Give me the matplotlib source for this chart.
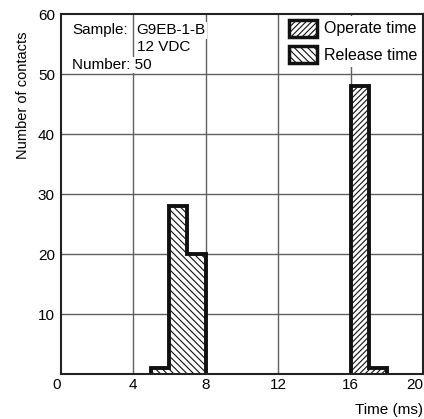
import matplotlib.pyplot as plt
from matplotlib.patches import Patch

plt.rcParams['font.family'] = ['Liberation Sans', 'DejaVu Sans']
plt.rcParams['hatch.linewidth'] = 0.8

# histogram bins (ms) and counts
release_edges = [5, 6, 7, 8]
release_counts = [1, 28, 20]
operate_edges = [16, 17, 18]
operate_counts = [48, 1]

x_ticks = [0, 4, 8, 12, 16, 20]
y_ticks = [0, 10, 20, 30, 40, 50, 60]


def main():
    fig = plt.figure(figsize=(4.24, 4.19), dpi=100)
    ax = fig.add_axes([0.1427, 0.1074, 0.855, 0.859])

    ax.set_xlim(0, 20)
    ax.set_ylim(0, 60)

    # grid
    for x in x_ticks[1:-1]:
        ax.axvline(x, color='#606060', lw=1.0, zorder=1)
    for y in y_ticks[1:-1]:
        ax.axhline(y, color='#606060', lw=1.0, zorder=1)

    ax.stairs(release_counts, release_edges, baseline=0, fill=True,
              facecolor='white', edgecolor='#111111', hatch='\\\\\\\\\\',
              lw=2.8, zorder=3)
    ax.stairs(operate_counts, operate_edges, baseline=0, fill=True,
              facecolor='white', edgecolor='#111111', hatch='//////',
              lw=2.8, zorder=3)

    ax.set_xticks(x_ticks)
    ax.set_yticks(y_ticks)
    ax.tick_params(length=0, labelsize=11)
    ax.tick_params(axis='x', pad=3)
    ax.tick_params(axis='y', pad=4)
    ax.set_xticklabels([str(t) for t in x_ticks])
    # the origin "0" is shared, shown only once below the corner
    ax.set_yticklabels([''] + [str(t) for t in y_ticks[1:]])
    labs = ax.get_xticklabels()
    labs[0].set_ha('right')
    labs[-1].set_ha('right')
    for s in ax.spines.values():
        s.set_linewidth(1.5)
        s.set_color('#222222')
        s.set_zorder(4)

    ax.set_ylabel('Number of contacts', fontsize=10.5)
    ax.yaxis.set_label_coords(-0.085, 0.775)
    fig.text(0.997, 0.0215, 'Time (ms)', ha='right', va='center', fontsize=11)

    bb = dict(facecolor='white', edgecolor='none', pad=1)
    ax.text(0.63, 57.3, 'Sample:', fontsize=11, va='center', bbox=bb, zorder=5)
    ax.text(4.2, 57.3, 'G9EB-1-B', fontsize=11, va='center', bbox=bb, zorder=5)
    ax.text(4.2, 54.5, '12 VDC', fontsize=11, va='center', bbox=bb, zorder=5)
    ax.text(0.63, 51.5, 'Number: 50', fontsize=11, va='center', bbox=bb, zorder=5)

    handles = [
        Patch(facecolor='white', edgecolor='#111111', hatch='//////', lw=2.5),
        Patch(facecolor='white', edgecolor='#111111', hatch='\\\\\\\\\\', lw=2.5),
    ]
    leg = ax.legend(handles, ['Operate time', 'Release time'], loc='upper right',
                    fontsize=11.5, frameon=True, fancybox=False,
                    handlelength=1.75, handleheight=1.25, labelspacing=0.6,
                    handletextpad=0.45, borderpad=0.25, borderaxespad=0.1)
    leg.get_frame().set_edgecolor('none')
    leg.get_frame().set_facecolor('white')
    leg.get_frame().set_alpha(1)
    leg.set_zorder(6)

    fig.savefig('out.png', dpi=100)


if __name__ == "__main__":
    main()
